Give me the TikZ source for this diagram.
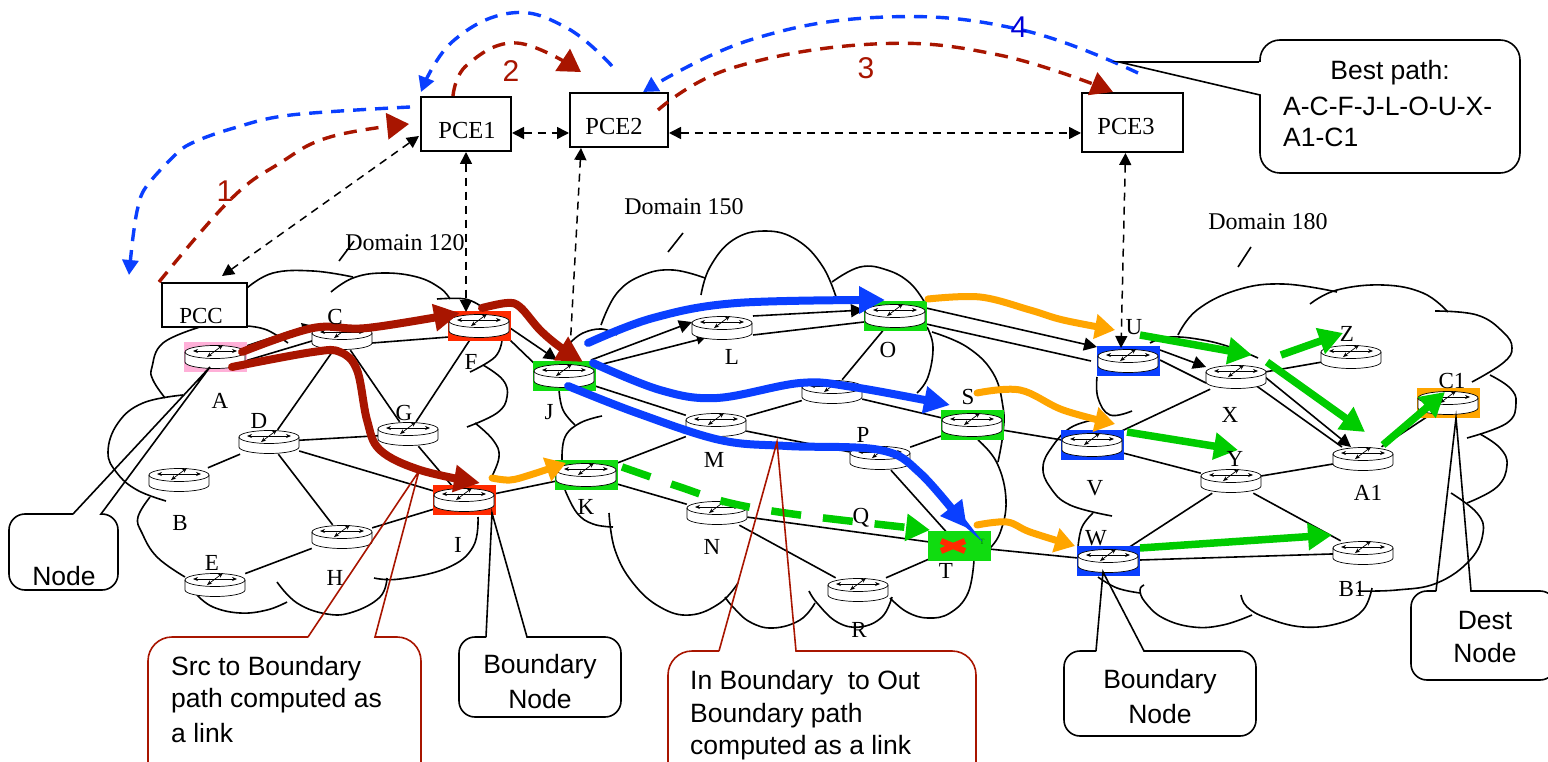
\documentclass[tikz,border=0pt]{standalone}
\usepackage{fontspec}
\setmainfont{Liberation Serif}
\newfontfamily\calloutfont{Liberation Sans}
\usetikzlibrary{arrows.meta,calc}
\definecolor{dred}{HTML}{A81500}
\definecolor{cblue}{HTML}{0A3FFF}
\definecolor{dblue}{HTML}{0000D8}
\definecolor{corange}{HTML}{FFA500}
\definecolor{cgreen}{HTML}{00CC00}
\definecolor{hgreen}{HTML}{10DC10}
\definecolor{hred}{HTML}{FF2A00}
\definecolor{hpink}{HTML}{FFB0D8}
\tikzset{
  x=1pt,y=-1pt,
  rnode/.style={inner sep=0pt,minimum width=60pt,minimum height=24pt},
  box/.style={draw=black,line width=2pt,inner sep=0pt,fill=white},
  lbl/.style={inner sep=0pt,font=\fontsize{23}{23}\selectfont},
  domlbl/.style={inner sep=0pt,font=\fontsize{24}{24}\selectfont},
  pcelbl/.style={inner sep=0pt,font=\fontsize{24.5}{24.5}\selectfont},
  numlbl/.style={inner sep=0pt,font=\calloutfont\fontsize{30}{30}\selectfont},
  calltxt/.style={inner sep=0pt,font=\calloutfont\fontsize{26.5}{32}\selectfont},
  cloudline/.style={line width=1.6pt,black},
  link/.style={line width=1.6pt,black},
  tipA/.style={-{Triangle[length=13pt,width=13pt]}},
  tipB/.style={-{Triangle[length=8pt,width=9pt]}},
  dashlink/.style={line width=1.5pt,black,dash pattern=on 8pt off 6pt,{Triangle[length=12pt,width=12pt]}-{Triangle[length=12pt,width=12pt]}},
  heavy/.style={line width=8pt,line cap=round,-{Triangle[length=26pt,width=26pt]}},
  heavyO/.style={line width=7pt,line cap=round,-{Triangle[length=20pt,width=24pt]}},
  heavyG/.style={line width=7.5pt,-{Triangle[length=24pt,width=26pt]}},
  arcdash/.style={line width=3.4pt,dash pattern=on 13pt off 9pt},
  callout/.style={line width=1.6pt,black},
  rcallout/.style={line width=1.6pt,dred},
  hl/.style={inner sep=0pt,minimum width=63pt,minimum height=30pt},
}
\newcommand{\routericon}[2]{%
  \begin{scope}[shift={(#1,#2)}]
    \draw[line width=.7pt,fill=white] (-30,-5) -- (-30,5) arc[start angle=180,end angle=360,x radius=30pt,y radius=6.5pt] -- (30,-5) arc[start angle=0,end angle=180,x radius=30pt,y radius=6.5pt] -- cycle;
    \draw[line width=.7pt] (-30,-5) arc[start angle=180,end angle=360,x radius=30pt,y radius=6.5pt];
    \draw[line width=.7pt,{Stealth[length=5pt,width=4pt]}-{Stealth[length=5pt,width=4pt]}] (-22,-6) -- (22,-6);
    \draw[line width=.7pt,{Stealth[length=5pt,width=4pt]}-{Stealth[length=5pt,width=4pt]}] (-8,0) -- (8,-12);
  \end{scope}}
\newcommand{\cloudarc}[1]{\draw[cloudline] plot[smooth,tension=.7] coordinates {#1};}
\begin{document}
\begin{tikzpicture}
\useasboundingbox (0,0) rectangle (1548,762);
\clip (0,0) rectangle (1548,762);
\fill[white] (0,0) rectangle (1548,762);

% router anchors
\foreach \n/\x/\y in {A/215/357,C/342/338,F/479/326,D/269/442,G/408/434,B/179/480,I/464/500,H/342/537,E/215/585,
  J/564/376,L/722/328,O/895/316,Rtr/832/392,M/716/425,P/880/458,S/972/425,K/586/475,N/717/513,R/858/590,T/959/546,
  U/1128/361,X/1236/377,Z/1351/357,V/1092/445,Y/1231/481,AA/1363/459,CC/1448/403,W/1108/561,BB/1363/553}
  {\node[rnode] (\n) at (\x,\y) {};}

% clouds
\cloudarc{(247,288)(273,273)(313,271)(353,277)}
\cloudarc{(331,292)(353,278)(383,273)(417,277)(440,288)(450,299)}
\cloudarc{(437,299)(465,299)(482,307)}
\cloudarc{(502,340)(495,357)(470,372)}
\cloudarc{(483,365)(503,380)(507,397)(497,413)(467,427)}
\cloudarc{(475,423)(493,440)(499,457)(490,480)}
\cloudarc{(478,517)(473,547)(447,568)(400,579)(374,578)}
\cloudarc{(387,578)(380,597)(353,612)(327,614)(297,603)(277,582)}
\cloudarc{(287,602)(267,610)(240,613)(213,607)(197,595)}
\cloudarc{(185,577)(157,557)(142,533)(138,517)(150,497)}
\cloudarc{(166,501)(137,490)(117,473)(108,452)(118,423)(143,403)(183,395)}
\cloudarc{(165,398)(153,380)(152,367)(163,343)(200,327)}
\cloudarc{(247,326)(267,330)(288,343)}
\cloudarc{(570,343)(583,333)(602,329)(617,335)}
\cloudarc{(601,325)(617,293)(643,275)(673,270)(705,278)}
\cloudarc{(701,295)(710,267)(733,240)(765,231)(797,240)(823,267)(838,303)}
\cloudarc{(832,282)(860,267)(887,270)(910,283)(925,303)}
\cloudarc{(927,327)(933,347)(928,377)(917,393)}
\cloudarc{(932,332)(967,347)(993,373)(1003,407)(1003,433)(998,462)}
\cloudarc{(978,440)(997,463)(1006,500)(1000,533)(988,550)}
\cloudarc{(974,560)(968,593)(950,613)(928,618)(907,612)(890,598)}
\cloudarc{(892,597)(882,617)(860,627)(837,622)(817,603)(809,591)}
\cloudarc{(815,603)(800,620)(773,628)(750,622)(733,607)(725,597)}
\cloudarc{(738,583)(720,603)(690,615)(660,607)(633,583)(615,550)(609,513)}
\cloudarc{(613,527)(593,524)(577,513)(565,490)}
\cloudarc{(562,460)(565,437)(580,423)(602,416)}
\cloudarc{(575,425)(563,410)(559,390)}
\cloudarc{(1178,335)(1197,310)(1237,290)(1283,284)(1337,292)}
\cloudarc{(1310,304)(1337,290)(1383,285)(1423,293)(1448,312)}
\cloudarc{(1435,311)(1477,315)(1503,332)(1512,348)(1503,363)(1472,382)}
\cloudarc{(1490,375)(1510,388)(1516,403)(1507,423)(1467,438)}
\cloudarc{(1480,434)(1500,448)(1507,465)(1497,487)(1467,503)}
\cloudarc{(1451,493)(1477,513)(1483,533)(1470,560)(1437,583)(1397,590)(1358,591)}
\cloudarc{(1372,588)(1363,610)(1340,623)(1303,627)(1267,618)(1247,607)(1241,595)}
\cloudarc{(1252,615)(1223,625)(1193,627)(1163,618)(1145,602)(1140,590)(1144,585)}
\cloudarc{(1140,593)(1117,588)(1098,577)}
\cloudarc{(1078,547)(1082,527)(1093,513)}
\cloudarc{(1112,516)(1070,505)(1050,487)(1043,467)(1052,447)(1070,428)(1093,420)}
\cloudarc{(1132,411)(1110,415)(1098,398)(1097,377)}
\cloudarc{(1150,343)(1170,337)(1203,340)(1233,348)(1258,358)}

% domain ticks
\coordinate (t1a) at (339,261); \coordinate (t1b) at (354,241);
\coordinate (t2a) at (668,252); \coordinate (t2b) at (683,233);
\coordinate (t3a) at (1238,267); \coordinate (t3b) at (1251,247);
\draw[cloudline] (t1a) -- (t1b);
\draw[cloudline] (t2a) -- (t2b);
\draw[cloudline] (t3a) -- (t3b);

% links
\foreach \a/\b in {C/D,C/G,F/G,D/G,D/B,D/H,D/I,G/I,H/I,H/E,I/K,J/M,M/Rtr,O/Rtr,Rtr/S,M/P,P/S,P/T,K/M,K/N,N/T,N/R,R/T,S/V,T/W,X/Z,X/V,V/Y,Y/AA,Y/W,Y/BB,W/BB,AA/CC}
  {\draw[link] (\a) -- (\b);}
\draw[link,tipB] ([shift={(28,-10)}]A.center) -- ([shift={(-32,-13)}]C.center);
\draw[link] ([shift={(30,4)}]A.center) -- ([shift={(-30,3)}]C.center);
\draw[link,tipA] ([shift={(26,-13)}]C.center) -- ([shift={(-27,-8)}]F.center);
\draw[link] ([shift={(30,5)}]C.center) -- ([shift={(-30,11)}]F.center);
\draw[link,tipA] ([shift={(31,2)}]F.center) -- ([shift={(-7,-16)}]J.center);
\draw[link] ([shift={(31,14)}]F.center) -- ([shift={(-26,-9)}]J.center);
\draw[link,tipA] ([shift={(27,-16)}]J.center) -- ([shift={(-30,-6)}]L.center);
\draw[link,tipB] ([shift={(31,-10)}]J.center) -- ([shift={(-17,10)}]L.center);
\draw[link,tipA] ([shift={(31,-12)}]L.center) -- ([shift={(-31,-6)}]O.center);
\draw[link] ([shift={(31,7)}]L.center) -- ([shift={(-31,6)}]O.center);
\draw[link,tipA] ([shift={(31,-8)}]O.center) -- ([shift={(-31,-14)}]U.center);
\draw[link] ([shift={(31,8)}]O.center) -- ([shift={(-37,0)}]U.center);
\draw[link,tipA] ([shift={(32,-11)}]U.center) -- ([shift={(-30,-10)}]X.center);
\draw[link] ([shift={(32,-1)}]U.center) -- ([shift={(-30,6)}]X.center);
\draw[link,tipA] ([shift={(29,0)}]X.center) -- ([shift={(-12,-12)}]AA.center);
\draw[link] ([shift={(15,5)}]X.center) -- ([shift={(-21,-12)}]AA.center);

% highlights
\foreach \n/\c in {A/hpink,F/hred,I/hred,J/hgreen,O/hgreen,S/hgreen,K/hgreen,T/hgreen,U/cblue,V/cblue,W/cblue,CC/corange}
  {\node[hl,fill=\c] (h\n) at (\n) {};}

% router icons
\foreach \x/\y in {215/357,342/338,479/326,269/442,408/434,179/480,464/500,342/537,215/585,564/376,722/328,895/316,832/392,716/425,880/458,972/425,586/475,717/513,858/590,1128/361,1236/377,1351/357,1092/445,1231/481,1363/459,1448/403,1108/561,1363/553}
  {\routericon{\x}{\y}}

% failed router mark
\coordinate (xa) at (941,541); \coordinate (xb) at (965,551);
\coordinate (xc) at (941,551); \coordinate (xd) at (965,541);
\draw[hred,line width=6pt] (xa) -- (xb);
\draw[hred,line width=6pt] (xc) -- (xd);
\node[inner sep=0pt,text=green!50!black,font=\fontsize{8}{8}\selectfont] (tinyT) at (982,542) {T};

% pce boxes
\node[box,minimum width=85pt,minimum height=44pt] (PCC) at (204.5,305) {};
\node[box,minimum width=90pt,minimum height=54pt] (PCEa) at (466,124) {};
\node[box,minimum width=98pt,minimum height=54pt] (PCEb) at (619,120) {};
\node[box,minimum width=101pt,minimum height=59pt] (PCEc) at (1132.5,122.5) {};

% dashed control links
\coordinate (pccT) at (222,276); \coordinate (pe1L) at (419,136);
\draw[dashlink] (pccT) -- (pe1L);
\draw[dashlink] ([yshift=-9pt]PCEa.east) -- ([yshift=-13pt]PCEb.west);
\draw[dashlink] ([yshift=-13pt]PCEb.east) -- ([yshift=-10.5pt]PCEc.west);
\draw[dashlink] (PCEa.south) -- ([shift={(-13,-14)}]F.center);
\draw[dashlink,{Triangle[length=12pt,width=12pt]}-] ([xshift=-38pt]PCEb.south) -- ([shift={(6,-26)}]J.center);
\draw[dashlink] ([xshift=-7pt]PCEc.south) -- ([shift={(-7,-13)}]U.center);

% heavy paths: dark red
\draw[dred,heavy] plot[smooth,tension=.6] coordinates {([shift={(27,-5)}]A.center) (313,328) (367,328) ([shift={(-19,-13)}]F.center)};
\draw[dred,heavy] plot[smooth,tension=.6] coordinates {([shift={(17,10)}]A.center) (313,352) (340,352) (357,370) (367,420) (380,450) (420,470) ([shift={(16,-17)}]I.center)};
\draw[dred,heavy] plot[smooth,tension=.6] coordinates {([shift={(3,-18)}]F.center) (507,303) (520,307) (540,330) (560,347) ([shift={(19,-14)}]J.center)};
% blue
\draw[cblue,heavy] plot[smooth,tension=.6] coordinates {([shift={(24,-33)}]J.center) (653,318) (737,303) ([shift={(-10,-16)}]O.center)};
\draw[cblue,heavy] plot[smooth,tension=.6] coordinates {([shift={(29,-13)}]J.center) (660,390) (717,398) (800,383) (853,387) ([shift={(-22,-20)}]S.center)};
\draw[cblue,heavy] plot[smooth,tension=.6] coordinates {([shift={(4,10)}]J.center) (637,413) (720,440) (787,446) (880,450) (920,473) ([shift={(8,-18)}]T.center)};
% orange
\draw[corange,heavyO] plot[smooth,tension=.6] coordinates {([shift={(28,-22)}]I.center) (510,480) (530,475) ([shift={(-20,-12)}]K.center)};
\draw[corange,heavyO] plot[smooth,tension=.6] coordinates {([shift={(33,-17)}]O.center) (980,297) (1030,310) (1063,320) ([shift={(-13,-31)}]U.center)};
\draw[corange,heavyO] plot[smooth,tension=.6] coordinates {([shift={(5,-32)}]S.center) (1020,390) (1063,410) ([shift={(23,-21)}]V.center)};
\draw[corange,heavyO] plot[smooth,tension=.6] coordinates {([shift={(18,-21)}]T.center) (1007,522) (1030,532) ([shift={(-33,-15)}]W.center)};
% green
\draw[cgreen,heavyG,dash pattern=on 30pt off 22pt] plot[smooth,tension=.6] coordinates {([shift={(36,-8)}]K.center) (680,487) (730,503) (800,515) ([shift={(-29,-16)}]T.center)};
\draw[cgreen,heavyG] ([shift={(12,-26)}]U.center) -- ([shift={(16,-22)}]X.center);
\draw[cgreen,heavyG] ([shift={(31,-15)}]X.center) -- ([shift={(2,-27)}]AA.center);
\draw[cgreen,heavyG] ([shift={(45,-22)}]X.center) -- ([shift={(-8,-24)}]Z.center);
\draw[cgreen,heavyG] ([shift={(35,-13)}]V.center) -- ([shift={(7,-31)}]Y.center);
\draw[cgreen,heavyG] ([shift={(32,-13)}]W.center) -- ([shift={(-31,-18)}]BB.center);
\draw[cgreen,heavyG] ([shift={(20,-14)}]AA.center) -- ([shift={(-3,-11)}]CC.center);

% big message arcs
\coordinate (o1) at (159,282); \coordinate (o2) at (129,275);
\draw[dred,arcdash,-{Triangle[length=22pt,width=26pt]}] plot[smooth,tension=.7] coordinates {(o1) (230,200) (280,163) (330,137) (409,124)};
\draw[cblue,arcdash,-{Triangle[length=15pt,width=16pt]}] plot[smooth,tension=.6] coordinates {([shift={(-10,-17)}]PCEa.west) (291,115) (234,128) (192,143) (173,157) (146,187) (138,207) (133,237) (o2)};
\draw[dred,arcdash,-{Triangle[length=22pt,width=26pt]}] plot[smooth,tension=.7] coordinates {([xshift=-13pt]PCEa.north) (467,65) (517,43) (581,72)};
\draw[cblue,arcdash,-{Triangle[length=15pt,width=16pt]}] plot[smooth,tension=.7] coordinates {([xshift=-7pt,yshift=26pt]PCEb.north) (567,28) (511,13) (452,42) ([xshift=1pt,yshift=4pt]PCEa.north west)};
\draw[dred,arcdash,-{Triangle[length=22pt,width=24pt]}] plot[smooth,tension=.7] coordinates {([shift={(-11,18)}]PCEb.north east) (732,68) (874,44) (999,55) ([xshift=32pt]PCEc.north west)};
\coordinate (o3) at (1138,73);
\draw[cblue,arcdash,-{Triangle[length=15pt,width=16pt]}] plot[smooth,tension=.7] coordinates {(o3) (1022,30) (886,17) (750,40) ([xshift=-26pt]PCEb.north east)};

% callouts
\coordinate (tipBP) at (1119,62);
\draw[callout] (1259,62) -- (tipBP) -- (1260,95) [rounded corners=20pt] -- (1260,173) -- (1520,173) -- (1520,40) -- (1260,40) [sharp corners] -- (1260,62);
\coordinate (tipN) at (210,367);
\draw[callout] (73,514) -- (tipN) -- (101,514) [rounded corners=16pt] -- (118,514) -- (118,590) -- (9,590) -- (9,514) [sharp corners] -- (73,514);
\draw[rcallout] (308,637) -- ([shift={(-45,-29)}]I.center) -- (375,637) [rounded corners=24pt] -- (421,637) -- (421,800) -- (148,800) -- (148,637) [sharp corners] -- (308,637);
\draw[callout] (486,637) -- ([shift={(28,13)}]I.center) -- (527,637) [rounded corners=16pt] -- (621,637) -- (621,717) -- (459,717) -- (459,637) [sharp corners] -- (486,637);
\coordinate (tipM) at (777,442);
\draw[rcallout] (719,651) -- (tipM) -- (796,651) [rounded corners=24pt] -- (976,651) -- (976,800) -- (668,800) -- (668,651) [sharp corners] -- (719,651);
\draw[callout] (1096,651) -- ([shift={(-5,11)}]W.center) -- (1144,651) [rounded corners=16pt] -- (1256,651) -- (1256,736) -- (1064,736) -- (1064,651) [sharp corners] -- (1096,651);
\draw[callout] (1436,591) -- ([shift={(8,15)}]CC.center) -- (1471,591) [rounded corners=16pt] -- (1556,591) -- (1556,680) -- (1411,680) -- (1411,591) [sharp corners] -- (1436,591);

% callout texts
\node[calltxt] (tBest) at (1390,73) {Best path:};
\node[calltxt,anchor=west] (tBest2) at (1283,106) {A-C-F-J-L-O-U-X-};
\node[calltxt,anchor=west] (tBest3) at (1283,137) {A1-C1};
\node[calltxt] (tNode) at (64,576) {Node};
\node[calltxt,anchor=west] (tSrc1) at (171,669) {Src to Boundary};
\node[calltxt,anchor=west] (tSrc2) at (171,701) {path computed as};
\node[calltxt,anchor=west] (tSrc3) at (171,733) {a link};
\node[calltxt] (tB1) at (540,667) {Boundary};
\node[calltxt] (tB2) at (540,699) {Node};
\node[calltxt,anchor=west] (tIn1) at (690,683) {In Boundary\ \ to Out};
\node[calltxt,anchor=west] (tIn2) at (690,716) {Boundary path};
\node[calltxt,anchor=west] (tIn3) at (690,748) {computed as a link};
\node[calltxt] (tB3) at (1160,682) {Boundary};
\node[calltxt] (tB4) at (1160,714) {Node};
\node[calltxt] (tD1) at (1485,621) {Dest};
\node[calltxt] (tD2) at (1485,653) {Node};

% labels
\foreach \t/\x/\y in {A/220/401,C/335/317,F/471/362,D/259/421,G/404/413,B/180/523,I/458/545,H/335/578,E/212/563,
  J/549/412,L/732/357,O/888/350,S/968/397,P/863/435,M/714/460,K/586/507,N/712/547,Q/861/518,R/859/630,T/946/571,
  U/1134/327,X/1230/415,Z/1347/334,C1/1452/381,V/1095/488,Y/1235/459,A1/1368/493,W/1096/538,B1/1352/589,PCC/201/316}
  {\node[lbl] (l\t) at (\x,\y) {\t};}
\node[pcelbl] (lP1) at (467,131) {PCE1};
\node[pcelbl] (lP2) at (614,127) {PCE2};
\node[pcelbl] (lP3) at (1126,127) {PCE3};
\node[domlbl] (d1) at (405,243) {Domain 120};
\node[domlbl] (d2) at (684,207) {Domain 150};
\node[domlbl] (d3) at (1268,222) {Domain 180};
\node[numlbl,text=dred] (n1) at (225,191) {1};
\node[numlbl,text=dred] (n2) at (511,71) {2};
\node[numlbl,text=dred] (n3) at (866,68) {3};
\node[numlbl,text=dblue] (n4) at (1019,27) {4};
\end{tikzpicture}
\end{document}
